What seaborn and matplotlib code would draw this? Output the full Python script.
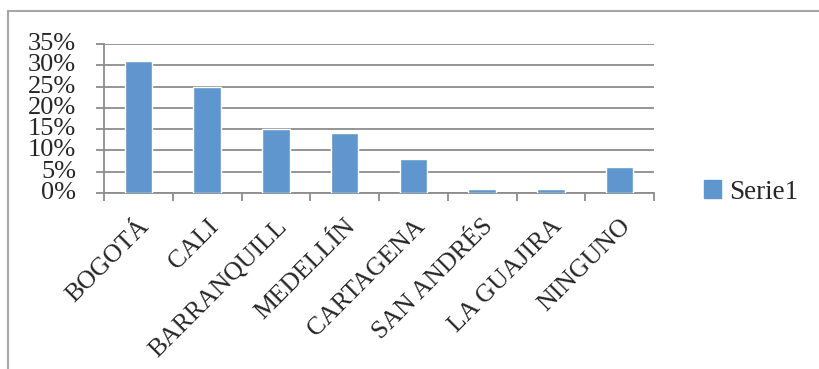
import matplotlib
matplotlib.use("Agg")
import matplotlib.pyplot as plt
from matplotlib.lines import Line2D
from matplotlib.ticker import FuncFormatter, FixedLocator
import seaborn as sns
import pandas as pd

# Destinations and share of respondents
ciudades = ["BOGOTÁ", "CALI", "BARRANQUILL", "MEDELLÍN", "CARTAGENA",
            "SAN ANDRÉS", "LA GUAJIRA", "NINGUNO"]
porcentajes = [0.31, 0.25, 0.15, 0.14, 0.08, 0.01, 0.01, 0.06]
serie = "Serie1"
y_ticks = [0, 0.05, 0.10, 0.15, 0.20, 0.25, 0.30, 0.35]

sns.set_style("white")
plt.rcParams["font.family"] = ["Liberation Serif", "DejaVu Serif"]

df = pd.DataFrame({"ciudad": ciudades, "valor": porcentajes})

W, H = 819, 369
fig = plt.figure(figsize=(W / 100, H / 100), dpi=100)
ax = fig.add_axes([104 / W, 1 - 193 / H, (654 - 104) / W, (193 - 44) / H])

bar_color = "#5f96cd"
sns.barplot(data=df, x="ciudad", y="valor", color=bar_color, width=0.4,
            saturation=1, ax=ax, zorder=3)

grid_c = "#8c8c8c"
ax.set_ylim(0, 0.35)
ax.set_xlim(-0.5, len(ciudades) - 0.5)
ax.yaxis.set_major_locator(FixedLocator(y_ticks))
ax.yaxis.set_major_formatter(FuncFormatter(lambda v, _: f"{round(v * 100):d}%"))
ax.grid(axis="y", color=grid_c, linewidth=1.3, zorder=0)
ax.set_axisbelow(True)

for s in ["top", "right"]:
    ax.spines[s].set_visible(False)
for s in ["left", "bottom"]:
    ax.spines[s].set_color(grid_c)
    ax.spines[s].set_linewidth(1.3)

ax.tick_params(axis="y", which="major", length=6, width=1.3, color=grid_c,
               labelsize=19, pad=14, left=True, direction="out")
ax.tick_params(axis="x", which="major", length=0, labelsize=18.5, pad=16)
ax.xaxis.set_minor_locator(FixedLocator([i - 0.5 for i in range(len(ciudades) + 1)]))
ax.tick_params(axis="x", which="minor", length=6, width=1.3, color=grid_c,
               bottom=True, direction="out")
for lbl in ax.get_yticklabels():
    lbl.set_va("center")
for lbl in ax.get_xticklabels():
    lbl.set_rotation(45)
    lbl.set_ha("right")
    lbl.set_va("top")
    lbl.set_rotation_mode("anchor")
ax.set_xlabel("")
ax.set_ylabel("")

# Legend
handle = plt.Rectangle((0, 0), 1, 1, color=bar_color)
fig.legend([handle], [serie], loc="center left",
           bbox_to_anchor=(680 / W, 1 - 192 / H), frameon=False,
           fontsize=19.5, handlelength=0.6, handleheight=0.6, handletextpad=0.3)

# Chart-area border
border_c = "#a6a6a6"
fig.add_artist(Line2D([7.5 / W, 1], [1 - 10.5 / H, 1 - 10.5 / H],
                      transform=fig.transFigure, color=border_c, linewidth=1.5))
fig.add_artist(Line2D([7.5 / W, 7.5 / W], [0, 1 - 10.5 / H],
                      transform=fig.transFigure, color=border_c, linewidth=1.5))

fig.savefig("out.png", dpi=100, facecolor="white")
